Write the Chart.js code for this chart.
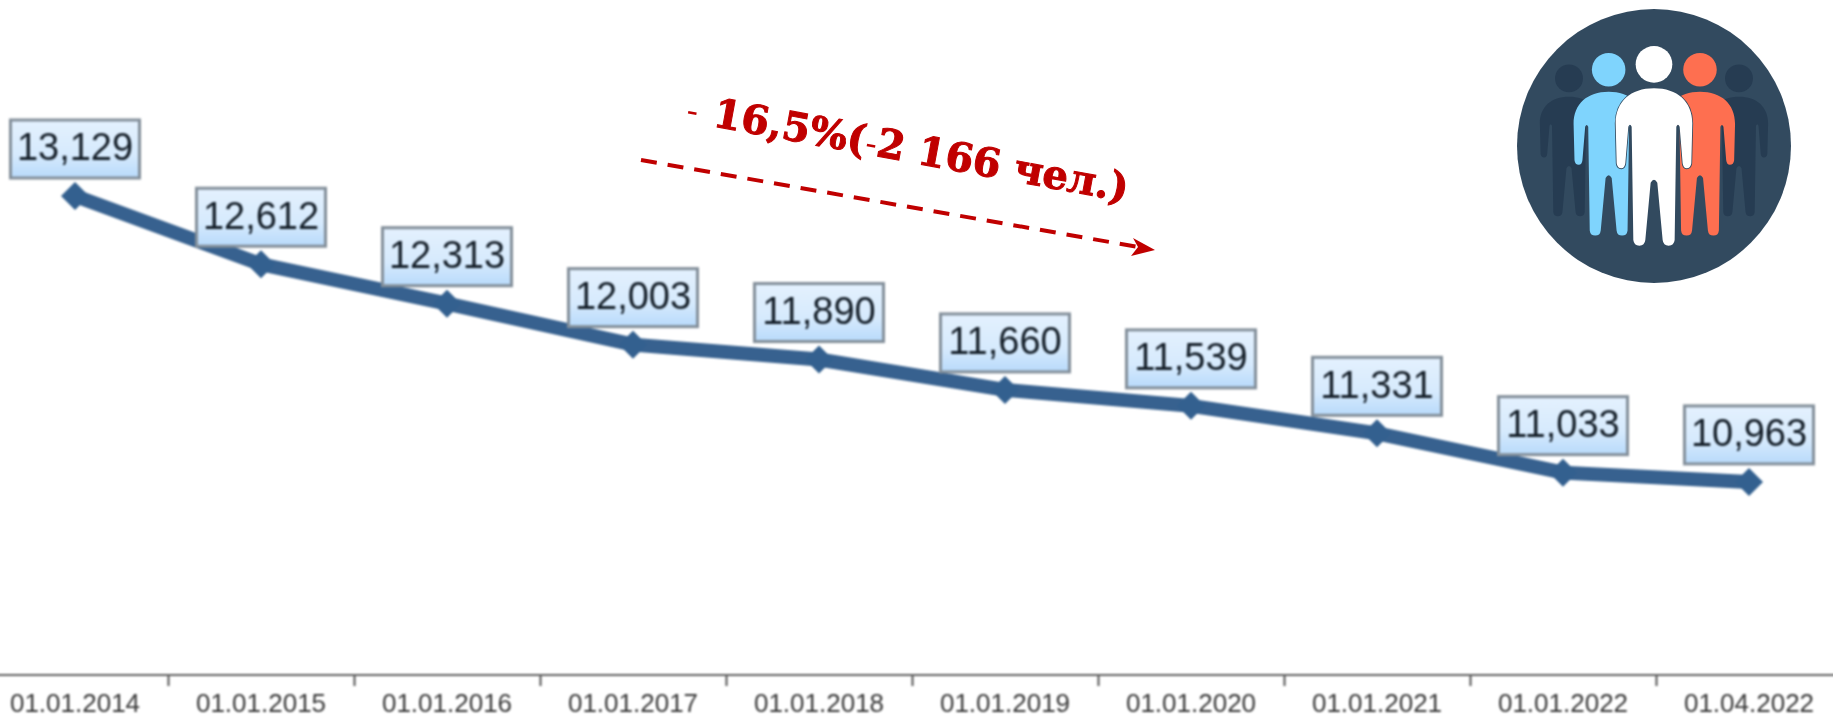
<!DOCTYPE html>
<html><head><meta charset="utf-8">
<style>
html,body{margin:0;padding:0;background:#fff;width:1833px;height:715px;overflow:hidden}
#c{position:absolute;left:-18px;top:0;filter:blur(0.9px)}
#o{position:absolute;left:0;top:0}
</style>
<script src="https://cdn.jsdelivr.net/npm/chart.js@4/dist/chart.umd.min.js"></script>
</head><body>
<canvas id="c" width="1860" height="715"></canvas>
<svg id="o" width="1833" height="715" xmlns="http://www.w3.org/2000/svg">
  <defs>
    <path id="body" d="M0,265 C-70,265 -115,305 -115,370 L-112,490 Q-110,505 -98,505 Q-88,505 -86,490 L-77,380 Q-72,368 -67,380 L-62,720 Q-60,737 -44,737 Q-28,737 -26,720 L-10,548 Q0,530 10,548 L26,720 Q28,737 44,737 Q60,737 62,720 L67,380 Q72,368 77,380 L86,490 Q88,505 98,505 Q110,505 112,490 L115,370 C115,305 70,265 0,265Z"/>
    <g id="person"><circle cx="0" cy="193" r="55"/><use href="#body"/></g>
  </defs>
  <g stroke="#c00000" fill="#c00000">
    <line x1="641" y1="160" x2="1138" y2="247" stroke-width="4" stroke-dasharray="16 11"/>
    <path d="M1133,238 L1155,250 L1131,256 L1138,247Z" stroke="none"/>
  </g>
  <text transform="translate(685,121) rotate(10.4)" font-family="'DejaVu Serif'" font-weight="700" font-size="40" fill="#c00000" stroke="#c00000" stroke-width="1"><tspan font-size="34" font-weight="400" stroke-width="0">- </tspan><tspan dx="5">16,5%(</tspan><tspan font-weight="400" font-size="34" stroke-width="0">-</tspan><tspan>2 166 чел.)</tspan></text>
  <circle cx="1654" cy="146" r="137" fill="#324a5f"/>
  <g transform="translate(1500,0) scale(0.3333)">
    <g fill="#263c52">
      <g transform="translate(207,290) scale(0.76) translate(0,-265)"><use href="#person"/></g>
      <g transform="translate(717,290) scale(0.76) translate(0,-265)"><use href="#person"/></g>
    </g>
    <g transform="translate(326,275) scale(0.915) translate(0,-265)" fill="#7fd4fd"><use href="#person"/></g>
    <g transform="translate(600,275) scale(0.915) translate(0,-265)" fill="#fe6f50"><use href="#person"/></g>
    <g transform="translate(462,0)" fill="#ffffff"><circle cx="0" cy="193" r="55"/><use href="#body" stroke="#324a5f" stroke-width="5" paint-order="stroke"/></g>
  </g>
</svg>
<script>
const categories = ["01.01.2014","01.01.2015","01.01.2016","01.01.2017","01.01.2018","01.01.2019","01.01.2020","01.01.2021","01.01.2022","01.04.2022"];
const population = [13129,12612,12313,12003,11890,11660,11539,11331,11033,10963];
const yMin = 9500;
const yMax = 14614;

const valueBoxes = {
  id:'valueBoxes',
  afterDatasetsDraw(chart){
    const {ctx,scales:{x,y}} = chart;
    const w=129,h=58,gap=18;
    population.forEach((v,i)=>{
      const px=x.getPixelForValue(i), py=y.getPixelForValue(v);
      const l=px-w/2, t=py-gap-h;
      const g=ctx.createLinearGradient(0,t,0,t+h);
      g.addColorStop(0,'#e4f1fe');
      g.addColorStop(0.6,'#d6eafd');
      g.addColorStop(1,'#b8dafb');
      ctx.save();
      ctx.fillStyle=g; ctx.strokeStyle='#838f9a'; ctx.lineWidth=3;
      ctx.fillRect(l,t,w,h); ctx.strokeRect(l,t,w,h);
      ctx.fillStyle='#141e28';
      ctx.font='38px "Liberation Sans"';
      ctx.textAlign='center'; ctx.textBaseline='middle';
      ctx.fillText(v.toLocaleString('en-US'),px,t+h/2+1);
      ctx.restore();
    });
  }
};

new Chart(document.getElementById('c'),{
  type:'line',
  data:{labels:categories,datasets:[{
    data:population,
    borderColor:'#37618f',
    backgroundColor:'#33608f',
    borderWidth:14,
    tension:0,
    fill:false,
    pointStyle:'rectRot',
    pointRadius:14,
    pointBackgroundColor:'#33608f',
    pointBorderWidth:0
  }]},
  options:{
    responsive:false,animation:false,
    layout:{padding:0,autoPadding:false},
    plugins:{legend:{display:false},tooltip:{enabled:false}},
    scales:{
      y:{display:false,min:yMin,max:yMax},
      x:{
        offset:true,
        afterFit(s){s.height=40;},
        border:{color:'#606060',width:2},
        grid:{offset:true,drawOnChartArea:false,drawTicks:true,tickLength:11,tickColor:'#505050',tickWidth:2},
        ticks:{autoSkip:false,maxRotation:0,minRotation:0,padding:3,color:'#383838',font:{family:'"Liberation Sans"',size:26}}
      }
    }
  },
  plugins:[valueBoxes]
});
</script>
</body></html>
